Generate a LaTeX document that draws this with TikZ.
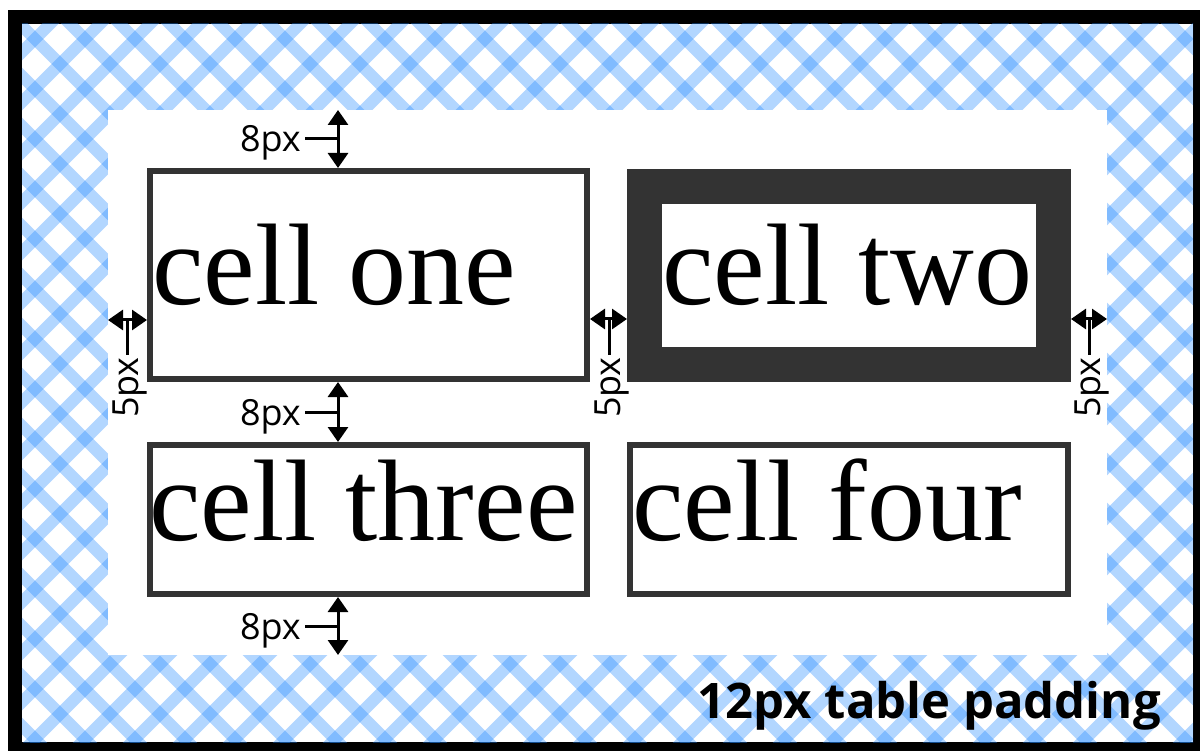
\documentclass[tikz,border=0pt]{standalone}
\usepackage{fontspec}
\setmainfont{Liberation Serif}
\newfontfamily\osans{Open Sans}
\usetikzlibrary{arrows.meta}
\definecolor{cellgray}{RGB}{51,51,51}
\definecolor{checkblue}{RGB}{36,138,255}
\begin{document}
\begin{tikzpicture}[x=1pt,y=-1pt,
  stripe/.style={draw=checkblue, draw opacity=0.35, line width=12pt},
  cellbox/.style={draw=cellgray, line width=6pt, inner sep=0pt, fill=white},
  celltext/.style={inner sep=0pt, font=\fontsize{116}{120}\selectfont},
  dimlabel/.style={inner sep=0pt, font=\osans\fontsize{36}{38}\selectfont},
  dimarrow/.style={line width=3pt, {Triangle[width=20pt,length=15pt]}-{Triangle[width=20pt,length=15pt]}},
  dimline/.style={line width=3pt}]
\useasboundingbox (0,0) rectangle (1200,751);
\fill[white] (0,0) rectangle (1200,751);
\fill[black] (8,10) rectangle (1200,751);
\fill[white] (22,24) rectangle (1193,742);
\begin{scope}
\clip (22,24) rectangle (1193,742);
\foreach \k in {-16,...,24} { \draw[stripe] ({-4+50*\k-100},-100) -- ({-4+50*\k+900},900); }
\foreach \k in {-3,...,38} { \draw[stripe] ({74+50*\k+100},-100) -- ({74+50*\k-900},900); }
\end{scope}
% inner white area
\node[fill=white, inner sep=0pt, minimum width=999pt, minimum height=545pt, anchor=north west] (inner) at (108,110) {};
% cells
\node[cellbox, minimum width=437pt, minimum height=208pt] (c1) at (368.5,275) {};
\node[cellbox, line width=35pt, minimum width=409pt, minimum height=178pt] (c2) at (849,275.5) {};
\node[cellbox, minimum width=437pt, minimum height=149pt] (c3) at (368.5,519.5) {};
\node[cellbox, minimum width=438pt, minimum height=149pt] (c4) at (849,519.5) {};
\node[celltext, anchor=base west] (t1) at (152,305) {cell one};
\node[celltext, anchor=base west] (t2) at (662,305) {cell two};
\node[celltext, anchor=base west] (t3) at (149,540) {cell three};
\node[celltext, anchor=base west] (t4) at (632,540) {cell four};
% vertical dimension arrows (8px)
\coordinate (a1t) at (338,110); \coordinate (a1b) at (338,168);
\coordinate (a1m) at (338,139); \coordinate (a1l) at (305,139);
\coordinate (a2t) at (338,382); \coordinate (a2b) at (338,442);
\coordinate (a2m) at (338,412); \coordinate (a2l) at (305,412);
\coordinate (a3t) at (338,597); \coordinate (a3b) at (338,655);
\coordinate (a3m) at (338,626); \coordinate (a3l) at (305,626);
\draw[dimarrow] (a1t) -- (a1b);
\draw[dimline] (a1l) -- (a1m);
\node[dimlabel, anchor=base east] (l1) at (301,152) {8px};
\draw[dimarrow] (a2t) -- (a2b);
\draw[dimline] (a2l) -- (a2m);
\node[dimlabel, anchor=base east] (l2) at (301,425) {8px};
\draw[dimarrow] (a3t) -- (a3b);
\draw[dimline] (a3l) -- (a3m);
\node[dimlabel, anchor=base east] (l3) at (301,639) {8px};
% horizontal dimension arrows (5px)
\coordinate (b1l) at (108,320); \coordinate (b1r) at (147,320);
\coordinate (b1m) at (127,320); \coordinate (b1d) at (127,355);
\coordinate (b2l) at (590,319); \coordinate (b2r) at (627,319);
\coordinate (b2m) at (609,319); \coordinate (b2d) at (609,355);
\coordinate (b3l) at (1071,319); \coordinate (b3r) at (1107,319);
\coordinate (b3m) at (1089,319); \coordinate (b3d) at (1089,355);
\draw[dimarrow] (b1l) -- (b1r);
\draw[dimline] (b1m) -- (b1d);
\node[dimlabel, rotate=90, anchor=base east] (m1) at (138,357) {5px};
\draw[dimarrow] (b2l) -- (b2r);
\draw[dimline] (b2m) -- (b2d);
\node[dimlabel, rotate=90, anchor=base east] (m2) at (620,357) {5px};
\draw[dimarrow] (b3l) -- (b3r);
\draw[dimline] (b3m) -- (b3d);
\node[dimlabel, rotate=90, anchor=base east] (m3) at (1100,357) {5px};
% caption
\node[inner sep=0pt, anchor=base east, font=\osans\bfseries\fontsize{49}{52}\selectfont] (cap) at (1161,718) {12px table padding};
\end{tikzpicture}
\end{document}
